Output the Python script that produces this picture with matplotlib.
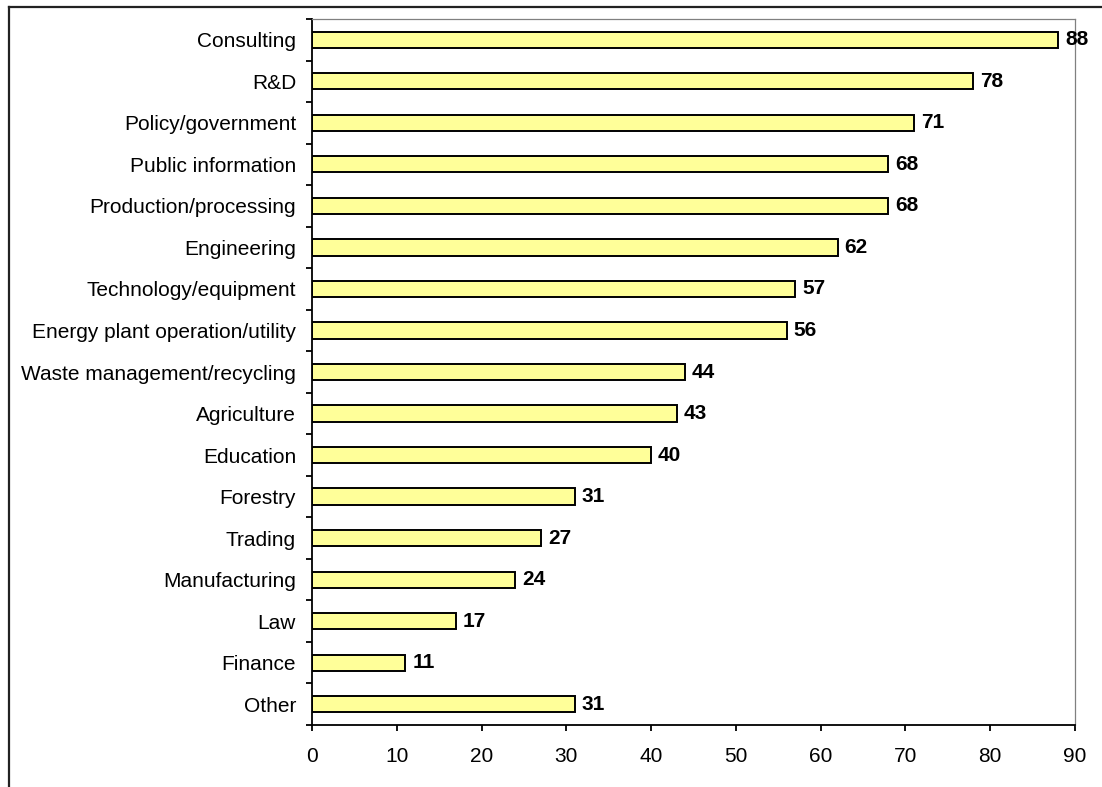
import matplotlib
matplotlib.use("Agg")
import matplotlib.pyplot as plt
from matplotlib.lines import Line2D
import numpy as np

categories = [
    "Consulting", "R&D", "Policy/government", "Public information",
    "Production/processing", "Engineering", "Technology/equipment",
    "Energy plant operation/utility", "Waste management/recycling",
    "Agriculture", "Education", "Forestry", "Trading", "Manufacturing",
    "Law", "Finance", "Other",
]
values = [88, 78, 71, 68, 68, 62, 57, 56, 44, 43, 40, 31, 27, 24, 17, 11, 31]
x_ticks = [0, 10, 20, 30, 40, 50, 60, 70, 80, 90]

plt.rcParams["font.family"] = ["Liberation Sans", "DejaVu Sans"]

fig = plt.figure(figsize=(11.02, 7.87), dpi=100)
ax = fig.add_axes([312 / 1102, 1 - 725 / 787, (1075 - 312) / 1102, (725 - 19) / 787])

n = len(categories)
ypos = np.arange(n)
ax.barh(ypos, values, height=0.39, color="#FFFF99", edgecolor="black", linewidth=1.4)

for y, v in zip(ypos, values):
    ax.annotate(str(v), (v, y), xytext=(5, 0), textcoords="offset points",
                ha="left", va="center", fontsize=15, fontweight="bold")

ax.set_xlim(0, 90)
ax.set_ylim(n - 0.5, -0.5)
ax.set_xticks(x_ticks)
ax.set_yticks(ypos)
ax.set_yticklabels(categories)
ax.set_yticks(np.arange(n + 1) - 0.5, minor=True)
ax.tick_params(axis="y", which="major", length=0, pad=11.5, labelsize=15)
ax.tick_params(axis="y", which="minor", length=4.5, width=1.3, direction="out")
ax.tick_params(axis="x", length=4.5, width=1.3, direction="out", pad=11.5, labelsize=15)

for side in ("left", "bottom"):
    ax.spines[side].set_color("black")
    ax.spines[side].set_linewidth(1.3)
for side in ("top", "right"):
    ax.spines[side].set_color("#808080")
    ax.spines[side].set_linewidth(0.9)

# outer frame edges
fig.add_artist(Line2D([8.5 / 1102, 1.0], [1 - 7 / 787, 1 - 7 / 787],
                      transform=fig.transFigure, color="#222222", linewidth=1.6))
fig.add_artist(Line2D([8.5 / 1102, 8.5 / 1102], [0.0, 1 - 7 / 787],
                      transform=fig.transFigure, color="#222222", linewidth=1.6))

fig.savefig("out.png", dpi=100)
